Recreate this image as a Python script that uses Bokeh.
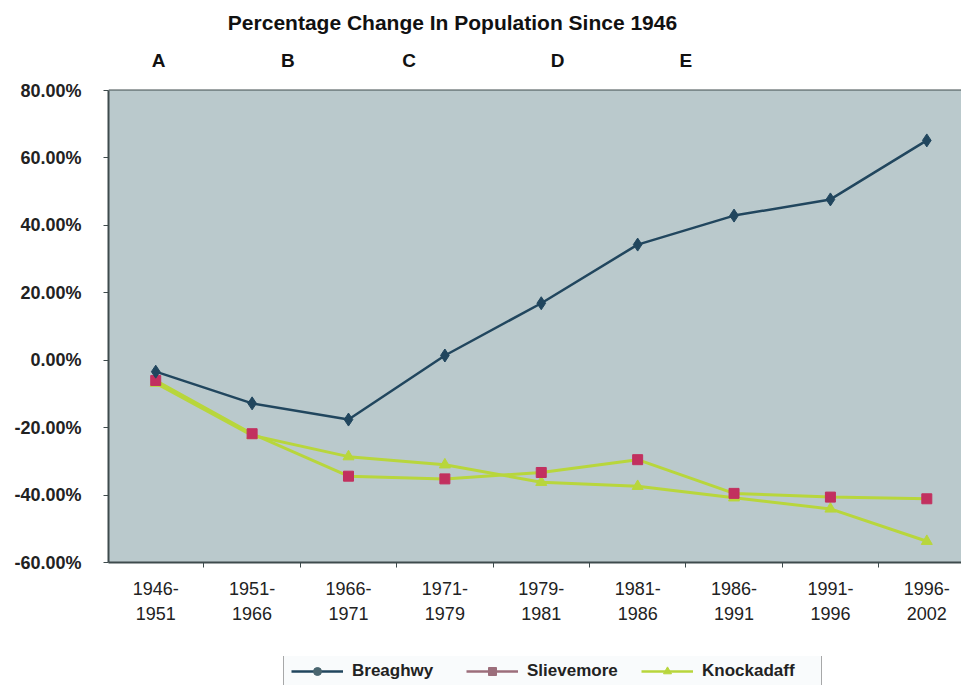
from bokeh.plotting import figure
from bokeh.layouts import column
from bokeh.models import (Range1d, FixedTicker, ColumnDataSource, Legend, LegendItem, Label,
                          BoxAnnotation)
from bokeh.embed import file_html
from bokeh.resources import INLINE

# Census periods and percentage change in population since 1946
periods = ["1946-\n1951", "1951-\n1966", "1966-\n1971", "1971-\n1979", "1979-\n1981",
           "1981-\n1986", "1986-\n1991", "1991-\n1996", "1996-\n2002"]
breaghwy = [-3.4, -12.8, -17.6, 1.4, 16.9, 34.3, 42.9, 47.7, 65.2]
slievemore = [-6.0, -21.8, -34.4, -35.2, -33.3, -29.5, -39.5, -40.6, -41.1]
knockadaff = [-6.8, -22.3, -28.6, -31.0, -36.2, -37.4, -40.8, -44.1, -53.7]

# Phase markers shown above the plot area
phase_letters = ["A", "B", "C", "D", "E"]
phase_positions = [0.03, 1.37, 2.63, 4.17, 5.50]

y_ticks = [-60, -40, -20, 0, 20, 40, 60, 80]
y_low, y_high = -60, 80

FONT = "Liberation Sans"
BG = "#bac9cc"
GRID = "#3e4b4d"
BLUE = "#21465e"
PINK = "#c2305f"
MAUVE = "#9c6e7b"
GREEN = "#b8d63c"

x = list(range(len(periods)))

# Main chart: the frame runs to the top of the canvas so the heading and
# phase letters can sit above the shaded value area.
p = figure(width=961, height=656, output_backend="svg", toolbar_location=None,
           x_range=Range1d(-0.49, 8.36), y_range=Range1d(y_low, 106.7),
           min_border_left=108, min_border_right=0, min_border_top=0,
           min_border_bottom=94)
p.background_fill_color = "white"
p.border_fill_color = "white"
p.outline_line_color = None
p.add_layout(BoxAnnotation(bottom=y_low, top=y_high, fill_color=BG, fill_alpha=1.0,
                           line_color=None, level="underlay"))

p.add_layout(Label(x=344, y=540, x_units="screen", y_units="screen",
                   text="Percentage Change In Population Since 1946",
                   text_font=FONT, text_font_size="21px", text_font_style="bold",
                   text_color="#111111", text_align="center", text_baseline="middle"))
for letter, pos in zip(phase_letters, phase_positions):
    p.add_layout(Label(x=pos, y=502, x_units="data", y_units="screen", text=letter,
                       text_font=FONT, text_font_size="19px", text_font_style="bold",
                       text_color="#111111", text_align="center",
                       text_baseline="middle"))

# Axes
p.xaxis.ticker = FixedTicker(ticks=x, minor_ticks=[i + 0.5 for i in x])
p.xaxis.major_label_overrides = {i: lab for i, lab in zip(x, periods)}
p.xaxis.major_tick_line_color = None
p.xaxis.minor_tick_out = 5
p.xaxis.minor_tick_in = 0
p.xaxis.minor_tick_line_color = GRID
p.xaxis.axis_line_color = GRID
p.xaxis.axis_line_width = 2
p.xaxis.major_label_text_font = FONT
p.xaxis.major_label_text_font_size = "18px"
p.xaxis.major_label_text_color = "#222222"
p.xaxis.major_label_text_line_height = 1.28
p.xaxis.major_label_standoff = 10

p.yaxis.ticker = FixedTicker(ticks=y_ticks, minor_ticks=[])
p.yaxis.bounds = (y_low, y_high)
p.yaxis.major_label_overrides = {v: f"{v:.2f}%" for v in y_ticks}
p.yaxis.major_tick_out = 5
p.yaxis.major_tick_in = 0
p.yaxis.major_tick_line_color = GRID
p.yaxis.axis_line_color = GRID
p.yaxis.axis_line_width = 2
p.yaxis.major_label_text_font = FONT
p.yaxis.major_label_text_font_size = "18px"
p.yaxis.major_label_text_font_style = "bold"
p.yaxis.major_label_text_color = "#222222"
p.yaxis.major_label_standoff = 22

p.xgrid.grid_line_color = None
p.ygrid.grid_line_color = GRID
p.ygrid.grid_line_width = 2

# Series
src = ColumnDataSource(dict(x=x, b=breaghwy, s=slievemore, k=knockadaff))

p.line("x", "k", source=src, line_color=GREEN, line_width=3)
p.scatter("x", "k", source=src, marker="triangle", size=11,
          fill_color=GREEN, line_color=GREEN)
p.line("x", "s", source=src, line_color=GREEN, line_width=3)
p.scatter("x", "s", source=src, marker="square", size=10,
          fill_color=PINK, line_color=PINK)
p.line("x", "b", source=src, line_color=BLUE, line_width=2.5)
p.scatter("x", "b", source=src, marker="diamond", size=13,
          fill_color=BLUE, line_color=BLUE)

# Legend strip underneath the chart (its frame lines up with the chart's frame)
lg = figure(width=961, height=29, output_backend="svg", toolbar_location=None,
            x_axis_location=None, y_axis_location=None, min_border=0,
            x_range=Range1d(0, 1), y_range=Range1d(0, 1))
lg.outline_line_color = None
lg.grid.visible = False
lg.background_fill_color = "white"
lg.border_fill_color = "white"

# key glyphs carry a single empty (NaN) point, so only the legend shows them
key = ColumnDataSource(dict(x=[float("nan")], y=[float("nan")]))
kb_l = lg.line("x", "y", source=key, line_color=BLUE, line_width=2.5)
kb_m = lg.scatter("x", "y", source=key, marker="circle", size=9,
                  fill_color="#4a6670", line_color="#4a6670")
ks_l = lg.line("x", "y", source=key, line_color=MAUVE, line_width=2.5)
ks_m = lg.scatter("x", "y", source=key, marker="square", size=10,
                  fill_color=MAUVE, line_color=MAUVE)
kk_l = lg.line("x", "y", source=key, line_color=GREEN, line_width=2.5)
kk_m = lg.scatter("x", "y", source=key, marker="triangle", size=10,
                  fill_color=GREEN, line_color=GREEN)

legend = Legend(items=[LegendItem(label="Breaghwy", renderers=[kb_l, kb_m]),
                       LegendItem(label="Slievemore", renderers=[ks_l, ks_m]),
                       LegendItem(label="Knockadaff", renderers=[kk_l, kk_m])],
                orientation="horizontal", location=(175, -4),
                label_text_font=FONT, label_text_font_size="17px",
                label_text_font_style="bold", label_text_color="#222222",
                glyph_width=52, glyph_height=20, label_standoff=9, spacing=2,
                label_width=112, padding=7, margin=0, border_line_color="#555555",
                border_line_width=1.5, background_fill_color="#f9fbfc",
                background_fill_alpha=1.0)
lg.add_layout(legend, "center")

open("out.html", "w").write(file_html(column(p, lg, spacing=0), INLINE))
